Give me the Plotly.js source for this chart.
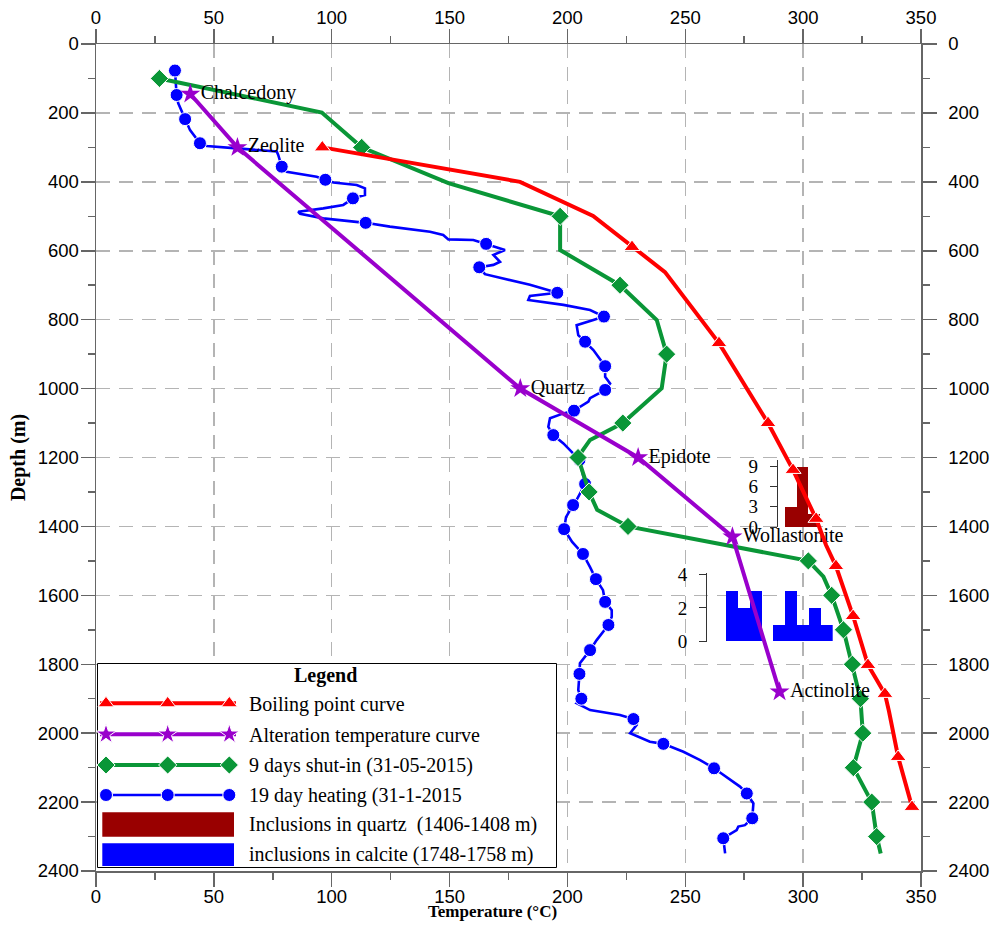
<!DOCTYPE html>
<html>
<head>
<meta charset="utf-8">
<script src="https://cdn.plot.ly/plotly-3.0.1.min.js"></script>
<style>
  html, body { margin: 0; padding: 0; background: #fff; }
  #chart { width: 993px; height: 931px; }
</style>
</head>
<body>
<div id="chart"></div>
<script>
// ---------------- data ----------------
// Boiling point for depth curve (°C, m); markers sit on the listed vertices
const boilingT = [96, 179.9, 210.9, 227.4, 241.4, 264.3, 285.1, 295.7, 305.5, 309.7, 313.9, 321.2, 327.5, 330.5, 334.7, 336.4, 340.3, 346.2];
const boilingD = [300, 400, 499, 589, 662, 868, 1100, 1236, 1378, 1454, 1515, 1660, 1802, 1837, 1886, 1936, 2069, 2214];
const boilingMarked = [0, 3, 5, 6, 7, 8, 10, 11, 12, 14, 16, 17];

// Alteration mineral temperatures
const alterMinerals = ['Chalcedony', 'Zeolite', 'Quartz', 'Epidote', 'Wollastonite', 'Actinolite'];
const alterT = [40, 60, 180, 230, 270, 290];
const alterD = [145, 300, 1000, 1200, 1430, 1880];

// 9 days shut-in log (31-05-2015)
const shutInT = [26.9, 95.8, 112.7, 149.5, 196.9, 196.9, 222.3, 237.9, 242.1, 240.0, 223.5, 209.6, 206.1, 204.5, 209.2, 212.6, 225.7, 302.2, 308.6, 312.1, 317.1, 320.9, 324.3, 325.3, 321.3, 329.1, 331.2, 332.9];
const shutInD = [100, 199, 300, 404, 500, 598, 700, 801, 900, 999, 1100, 1149, 1183, 1200, 1300, 1352, 1400, 1500, 1546, 1600, 1700, 1800, 1900, 2000, 2100, 2200, 2300, 2349];
const shutInMarked = [0, 2, 4, 6, 8, 10, 13, 14, 16, 17, 19, 20, 21, 22, 23, 24, 25, 26];

// 19 day heating log (31-1-2015)
const heatingT = [33.5, 34.2, 34.9, 37.8, 39.9, 44.1, 47.0, 59.7, 76.7, 77.3,
  78.8, 80.9, 93.6, 97.3, 100.7, 110.6, 114.1, 114.1, 109.0, 104.9,
  96.4, 85.8, 86.6, 96.4, 114.4, 124.7, 141.7, 147.3, 149.5, 160.1,
  165.5, 173.5, 168.6, 171.4, 168.6, 162.6, 165.0, 184.1, 195.7, 184.1,
  183.4, 198.3, 209.6, 215.5, 211.0, 203.9, 204.6, 207.5, 211.0, 216.0,
  216.0, 218.1, 216.0, 209.6, 208.9, 202.8, 198.3, 192.6, 191.9, 194.0,
  198.3, 205.1, 206.1, 207.5, 203.9, 202.4, 199.4, 198.6, 202.0, 206.6,
  209.6, 212.1, 215.1, 216.0, 218.8, 218.8, 217.4, 212.4, 209.6, 205.3,
  205.1, 204.6, 205.9, 203.9, 209.6, 222.3, 228.0, 229.4, 226.6, 235.0,
  240.7, 249.2, 256.3, 262.2, 273.2, 276.1, 278.9, 278.4, 275.3, 272.5,
  271.8, 266.1, 266.9];
const heatingD = [77, 148, 172, 218, 250, 288, 296, 303, 312, 322,
  356, 371, 385, 394, 402, 409, 419, 438, 448, 467,
  477, 487, 493, 506, 519, 530, 545, 554, 567, 569,
  580, 598, 612, 632, 641, 648, 668, 699, 722, 731,
  743, 757, 772, 791, 801, 816, 845, 864, 888, 935,
  966, 985, 1004, 1028, 1038, 1064, 1072, 1086, 1111, 1135,
  1159, 1207, 1236, 1277, 1323, 1338, 1373, 1408, 1445, 1480,
  1518, 1553, 1585, 1619, 1643, 1662, 1686, 1730, 1759, 1797,
  1828, 1875, 1900, 1913, 1933, 1947, 1959, 1976, 2000, 2025,
  2031, 2054, 2078, 2102, 2155, 2175, 2204, 2247, 2267, 2271,
  2281, 2305, 2349];
const heatingMarked = [0, 1, 3, 5, 10, 13, 18, 24, 30, 35, 38, 43, 47, 49, 52, 55, 59, 61, 63, 65,
  67, 69, 71, 73, 76, 78, 80, 82, 86, 90, 93, 95, 97, 101];

// Fluid inclusion homogenisation counts per bin
const quartzBins = [1, 2, 3];
const quartzCounts = [3, 9, 2];
const calciteBins = [1, 2, 3, 4, 5, 6, 7, 8, 9];
const calciteCounts = [3, 2, 3, 0, 1, 3, 1, 2, 1];

// Legend entries
const legendLabels = ['Boiling point curve', 'Alteration temperature curve',
  '9 days shut-in (31-05-2015)', '19 day heating (31-1-2015',
  'Inclusions in quartz  (1406-1408 m)', 'inclusions in calcite (1748-1758 m)'];

// ---------------- styling ----------------
const RED = '#ff0000', PURPLE = '#9900cc', GREEN = '#0a9637', BLUE = '#0000ff', DARKRED = '#990000';
const SERIF = 'Liberation Serif, Times New Roman, serif';
const SANS = 'Liberation Sans, Arial, sans-serif';

// plot area in page pixels
const PX_L = 96, PX_R = 921, PX_T = 44, PX_B = 871;
const fx = px => (px - PX_L) / (PX_R - PX_L);
const fy = py => (PX_B - py) / (PX_B - PX_T);

const markSizes = (n, marked, size) => {
  const s = new Set(marked);
  return Array.from({length: n}, (_, i) => s.has(i) ? size : 0);
};

const traces = [];

// heating log on the main (bottom/left) axes: lowest layer, above the grid
traces.push({
  type: 'scatter', xaxis: 'x', yaxis: 'y', x: heatingT, y: heatingD,
  mode: 'lines+markers', line: {color: BLUE, width: 2.6},
  marker: {symbol: 'circle', color: BLUE, opacity: 1, size: markSizes(heatingT.length, heatingMarked, 13)},
  cliponaxis: false, hoverinfo: 'skip'
});
// shut-in log on the mirrored (top/right) axes
traces.push({
  type: 'scatter', xaxis: 'x2', yaxis: 'y2', x: shutInT, y: shutInD,
  mode: 'lines+markers', line: {color: GREEN, width: 4},
  marker: {symbol: 'diamond', color: GREEN, opacity: 1, size: markSizes(shutInT.length, shutInMarked, 14)},
  cliponaxis: false, hoverinfo: 'skip'
});

// inset histograms
traces.push({
  type: 'bar', xaxis: 'x3', yaxis: 'y3', x: quartzBins, y: quartzCounts,
  marker: {color: DARKRED, line: {width: 0}}, width: 1, hoverinfo: 'skip'
});
traces.push({
  type: 'bar', xaxis: 'x4', yaxis: 'y4', x: calciteBins, y: calciteCounts,
  marker: {color: BLUE, line: {width: 0}}, width: 1, hoverinfo: 'skip'
});

// curves drawn above the insets
traces.push({
  type: 'scatter', xaxis: 'x5', yaxis: 'y5', x: alterT, y: alterD, text: alterMinerals,
  mode: 'lines+markers+text', textposition: 'middle right',
  textfont: {family: SERIF, size: 20, color: '#000'},
  line: {color: PURPLE, width: 4}, marker: {symbol: 'star', color: PURPLE, size: 15},
  cliponaxis: false, hoverinfo: 'skip'
});
traces.push({
  type: 'scatter', xaxis: 'x5', yaxis: 'y5', x: boilingT, y: boilingD,
  mode: 'lines+markers', line: {color: RED, width: 4},
  marker: {symbol: 'triangle-up', color: RED, opacity: 1, size: markSizes(boilingT.length, boilingMarked, 14)},
  cliponaxis: false, hoverinfo: 'skip'
});

// legend box (drawn in its own small subplot, coordinates in box pixels)
const LEG_W = 461, LEG_H = 205;
const keyRows = [
  {y: 40.3, color: RED, symbol: 'triangle-up', size: 14, width: 4},
  {y: 71.3, color: PURPLE, symbol: 'star', size: 15, width: 4},
  {y: 102, color: GREEN, symbol: 'diamond', size: 14, width: 4},
  {y: 132, color: BLUE, symbol: 'circle', size: 13, width: 2.6}
];
keyRows.forEach(r => traces.push({
  type: 'scatter', xaxis: 'x6', yaxis: 'y6',
  x: [4, 10, 71.7, 133.3, 140], y: [r.y, r.y, r.y, r.y, r.y],
  mode: 'lines+markers', line: {color: r.color, width: r.width},
  marker: {symbol: r.symbol, color: r.color, opacity: 1, size: [0, r.size, r.size, r.size, 0]},
  hoverinfo: 'skip'
}));

const textY = [41.2, 72, 102, 132, 161.5, 191.5];
const annotations = legendLabels.map((t, i) => ({
  xref: 'x6', yref: 'y6', x: 150.7, y: textY[i], text: t,
  xanchor: 'left', yanchor: 'middle', showarrow: false,
  font: {family: SERIF, size: 20, color: '#000'}
}));
annotations.push({
  xref: 'x6', yref: 'y6', x: 229.8, y: 12, text: 'Legend',
  xanchor: 'center', yanchor: 'middle', showarrow: false,
  font: {family: SERIF, size: 20, color: '#000', weight: 'bold'}
});
// temperature axis caption, set slightly left of the plot centre
annotations.push({
  xref: 'paper', yref: 'paper', x: fx(492.5), y: fy(912), text: 'Temperature (°C)',
  xanchor: 'center', yanchor: 'middle', showarrow: false,
  font: {family: SERIF, size: 17, color: '#000', weight: 'bold'}
});

const shapes = [
  {type: 'rect', xref: 'x6', yref: 'y6', x0: 1.5, x1: LEG_W - 0.5, y0: 0.5, y1: LEG_H - 0.5,
   fillcolor: '#fff', line: {color: '#000', width: 1}, layer: 'below'},
  {type: 'rect', xref: 'x6', yref: 'y6', x0: 6.3, x1: 138, y0: 149.3, y1: 173.7,
   fillcolor: DARKRED, line: {width: 0}, layer: 'below'},
  {type: 'rect', xref: 'x6', yref: 'y6', x0: 6.3, x1: 138, y0: 180.3, y1: 203,
   fillcolor: BLUE, line: {width: 0}, layer: 'below'}
];

// ---------------- axes ----------------
const AXC = '#666';
const tickStyle = {
  showline: true, linecolor: AXC, linewidth: 1.5,
  ticks: 'outside', ticklen: 14, tickwidth: 1.5, tickcolor: AXC,
  tickfont: {family: SANS, size: 18.5, color: '#000'},
  zeroline: false, fixedrange: true
};
const gridStyle = {showgrid: true, gridcolor: '#b4b4b4', gridwidth: 1.5, griddash: '14px,9px'};
const xTicks = {range: [0, 350], tick0: 0, dtick: 50,
  minor: {dtick: 25, ticks: 'outside', ticklen: 7, tickwidth: 1.5, tickcolor: AXC, showgrid: false}};
const yTicks = {range: [2400, 0], tick0: 0, dtick: 200,
  minor: {dtick: 100, ticks: 'outside', ticklen: 7, tickwidth: 1.5, tickcolor: AXC, showgrid: false}};

const insetY = (pos, dom, range, vals) => ({
  domain: dom, range: range, anchor: 'free', position: pos,
  tickvals: vals, ticks: 'outside', ticklen: 7, tickwidth: 1, tickcolor: '#333',
  showline: true, linecolor: '#333', linewidth: 1, showgrid: false, zeroline: false,
  tickfont: {family: SERIF, size: 19, color: '#000'}, ticklabelstandoff: 8, fixedrange: true
});
const hidden = (extra) => Object.assign({visible: false, fixedrange: true, showgrid: false, zeroline: false}, extra);

const layout = {
  width: 993, height: 931,
  margin: {l: PX_L, r: 993 - PX_R, t: PX_T, b: 931 - PX_B, pad: 0},
  paper_bgcolor: '#fff', plot_bgcolor: 'rgba(0,0,0,0)',
  showlegend: false, bargap: 0,
  font: {family: SERIF, color: '#000'},
  xaxis: Object.assign({}, tickStyle, gridStyle, xTicks, {
    side: 'bottom', anchor: 'y', ticklabelstandoff: -6
  }),
  yaxis: Object.assign({}, tickStyle, gridStyle, yTicks, {
    side: 'left', anchor: 'x', ticklabelstandoff: -2,
    title: {text: 'Depth (m)', font: {family: SERIF, size: 20, color: '#000', weight: 'bold'}, standoff: 6}
  }),
  xaxis2: Object.assign({}, tickStyle, xTicks, {overlaying: 'x', side: 'top', anchor: 'y', showgrid: false, ticklabelstandoff: -3}),
  yaxis2: Object.assign({}, tickStyle, yTicks, {overlaying: 'y', side: 'right', anchor: 'x', showgrid: false, ticklabelstandoff: 8}),
  xaxis3: hidden({domain: [fx(785), fx(820)], range: [0.5, 3.5], anchor: 'y3'}),
  yaxis3: insetY(fx(776.7), [fy(527), fy(459.8)], [0, 10], [0, 3, 6, 9]),
  xaxis4: hidden({domain: [fx(726), fx(832.7)], range: [0.5, 9.5], anchor: 'y4'}),
  yaxis4: insetY(fx(706), [fy(641.5), fy(572.6)], [0, 4.1], [0, 2, 4]),
  xaxis5: hidden({domain: [0, 1], range: [0, 350], anchor: 'y5'}),
  yaxis5: hidden({domain: [0, 1], range: [2400, 0], anchor: 'x5'}),
  xaxis6: hidden({domain: [0, fx(PX_L + LEG_W)], range: [0, LEG_W], anchor: 'y6'}),
  yaxis6: hidden({domain: [fy(663 + LEG_H), fy(663)], range: [LEG_H, 0], anchor: 'x6'}),
  shapes: shapes,
  annotations: annotations
};

Plotly.newPlot('chart', traces, layout, {staticPlot: true, displayModeBar: false});
</script>
</body>
</html>
